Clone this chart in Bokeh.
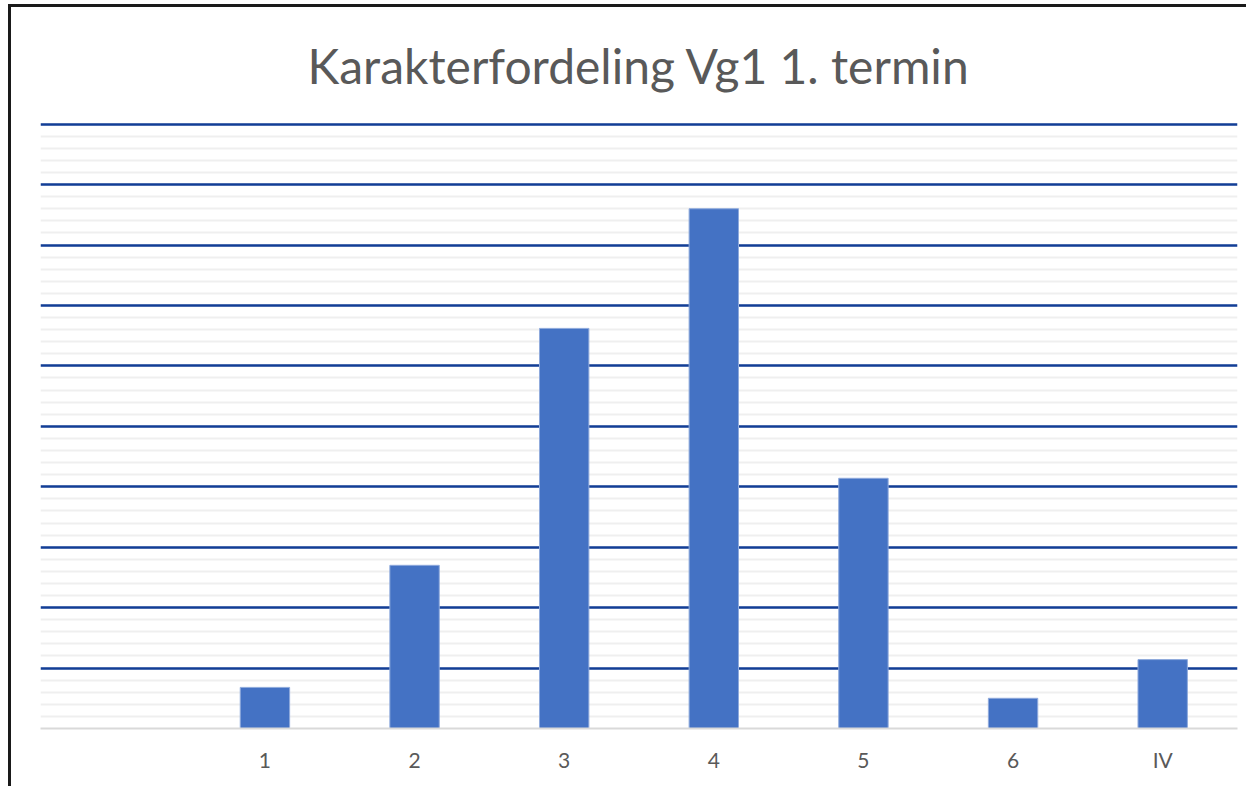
from bokeh.plotting import figure
from bokeh.models import FactorRange, Range1d, SingleIntervalTicker, ColumnDataSource
from bokeh.embed import file_html
from bokeh.resources import INLINE

# Data
categories = [" ", "1", "2", "3", "4", "5", "6", "IV"]
bar_categories = ["1", "2", "3", "4", "5", "6", "IV"]
values = [3.4, 13.5, 33.1, 43.0, 20.7, 2.5, 5.7]
title_text = "Karakterfordeling Vg1 1. termin"

source = ColumnDataSource(dict(cat=bar_categories, val=values))

p = figure(
    width=1238, height=782,
    x_range=FactorRange(factors=categories, range_padding=0.0),
    y_range=Range1d(0, 50.3),
    output_backend="svg", toolbar_location=None,
    min_border_left=29, min_border_right=12, min_border_top=113, min_border_bottom=61,
    title=title_text,
)
p.styles = {"border-left": "3px solid #1a1a1a", "border-top": "3px solid #1a1a1a",
            "margin-left": "8px", "margin-top": "4px"}
p.outline_line_color = None
p.background_fill_color = "white"
p.border_fill_color = "white"

p.title.align = "center"
p.title.text_font = "Lato"
p.title.text_font_size = "48px"
p.title.text_font_style = "normal"
p.title.text_color = "#595959"
p.title.standoff = 54

p.vbar(x="cat", top="val", width=0.33, source=source,
       fill_color="#4472C4", line_color="#8FAADC", line_width=1)

p.yaxis.visible = False
p.ygrid.ticker = SingleIntervalTicker(interval=5, num_minor_ticks=5)
p.ygrid.grid_line_color = "#123E96"
p.ygrid.grid_line_width = 2.5
p.ygrid.minor_grid_line_color = "#EFEFEF"
p.ygrid.minor_grid_line_width = 2
p.xgrid.grid_line_color = None

p.xaxis.axis_line_color = "#D9D9D9"
p.xaxis.axis_line_width = 2
p.xaxis.major_tick_line_color = None
p.xaxis.minor_tick_line_color = None
p.xaxis.major_label_standoff = 12
p.xaxis.major_label_text_font = "Lato"
p.xaxis.major_label_text_font_size = "21px"
p.xaxis.major_label_text_color = "#595959"

open("out.html", "w").write(file_html(p, INLINE))
